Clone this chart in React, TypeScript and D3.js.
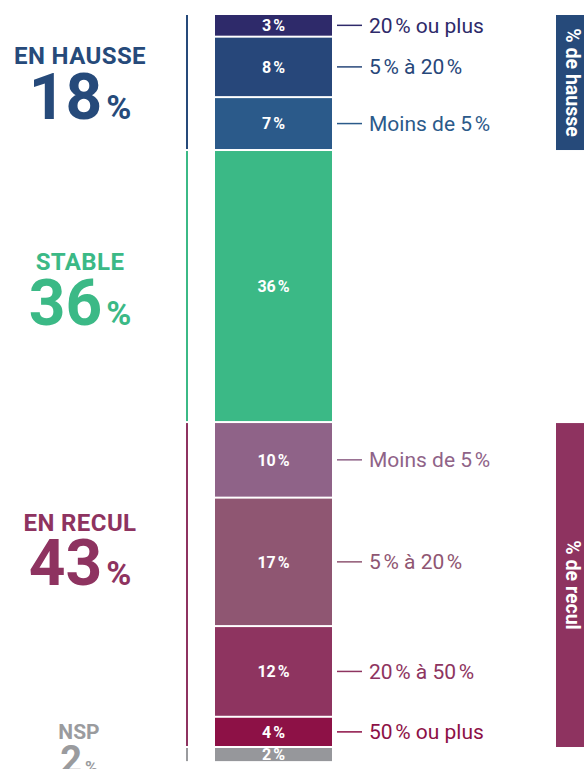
import React from "react";
import * as d3 from "d3";

// groups (left labels + vertical rules)
const groupNames = ["EN HAUSSE", "STABLE", "EN RECUL", "NSP"];
const groupTotals = [18, 36, 43, 2];
const groupColors = ["#264a7a", "#3bb986", "#8e3360", "#9a9b9e"];

// stacked segments, top to bottom
const segmentValues = [3, 8, 7, 36, 10, 17, 12, 4, 2];
const segmentGroups = [0, 0, 0, 1, 2, 2, 2, 2, 3];
const segmentColors = [
  "#2e2a6a",
  "#27477a",
  "#2b5a8a",
  "#3bb986",
  "#8f6388",
  "#8f5672",
  "#8e3460",
  "#8d1146",
  "#96979b",
];
const segmentLabels = [
  "20\u202F% ou plus",
  "5\u202F% à 20\u202F%",
  "Moins de 5\u202F%",
  "",
  "Moins de 5\u202F%",
  "5\u202F% à 20\u202F%",
  "20\u202F% à 50\u202F%",
  "50\u202F% ou plus",
  "",
];

// side boxes
const sideBoxGroups = [0, 2];
const sideBoxLabels = ["% de hausse", "% de recul"];

const W = 584;
const H = 769;
const FONT = "Roboto, 'Noto Sans', sans-serif";

export default function App() {
  const y = d3.scaleLinear().domain([0, 97]).range([15, 748]);
  const x = d3.scaleBand().domain(["bar"]).range([215, 332]);
  const bx = x("bar") as number;
  const bw = x.bandwidth();

  const ends = d3.cumsum(segmentValues);
  const segs = segmentValues.map((v, i) => ({
    v,
    start: ends[i] - v,
    end: ends[i],
    group: segmentGroups[i],
    color: segmentColors[i],
    label: segmentLabels[i],
  }));

  const groups = groupNames.map((name, g) => {
    const members = segs.filter((s) => s.group === g);
    return {
      name,
      total: groupTotals[g],
      color: groupColors[g],
      start: d3.min(members, (s) => s.start) as number,
      end: d3.max(members, (s) => s.end) as number,
    };
  });

  // vertical offsets of the left group labels relative to the group middle
  const labelShift = [0, 2, -36, 0];

  return (
    <svg width={W} height={H} style={{ display: "block", fontFamily: FONT }}>
      <style>{"body{margin:0}"}</style>

      {/* left vertical rules */}
      {groups.map((g, i) => (
        <rect
          key={"rule" + i}
          x={186}
          y={y(g.start)}
          width={2}
          height={y(g.end) - y(g.start) - 2}
          fill={g.color}
        />
      ))}

      {/* left labels */}
      {groups.map((g, i) => {
        if (g.name === "NSP") {
          const by = y(g.start) - 9;
          return (
            <g key={"lab" + i} fill={g.color} fontWeight={700} textAnchor="middle">
              <text x={79} y={by} fontSize={21}>
                {g.name}
              </text>
              <text x={79} y={by + 34}>
                <tspan fontSize={38}>{g.total}</tspan>
                <tspan fontSize={17} dx={3}>%</tspan>
              </text>
            </g>
          );
        }
        const cy = (y(g.start) + y(g.end)) / 2 + labelShift[i];
        return (
          <g key={"lab" + i} fill={g.color} fontWeight={700} textAnchor="middle">
            <text x={80} y={cy - 19} fontSize={24} letterSpacing={0.4}>
              {g.name}
            </text>
            <text x={80} y={cy + 35.5}>
              <tspan fontSize={64}>{g.total}</tspan>
              <tspan fontSize={34} dx={4}>%</tspan>
            </text>
          </g>
        );
      })}

      {/* stacked bar */}
      {segs.map((s, i) => {
        const my = (y(s.start) + y(s.end) - 2) / 2;
        return (
          <g key={"seg" + i}>
            <rect
              x={bx}
              y={y(s.start)}
              width={bw}
              height={y(s.end) - y(s.start) - 2}
              fill={s.color}
            />
            <text
              x={bx + bw / 2}
              y={my}
              dy="0.36em"
              textAnchor="middle"
              fill="#fff"
              fontWeight={700}
              fontSize={16}
              letterSpacing={1.4}
            >
              {s.v + "\u202F%"}
            </text>
            {s.label && (
              <g>
                <line x1={337} x2={362} y1={my} y2={my} stroke={s.color} strokeWidth={1.5} />
                <text x={369} y={my} dy="0.36em" fill={s.color} fontSize={21}>
                  {s.label}
                </text>
              </g>
            )}
          </g>
        );
      })}

      {/* side boxes */}
      {sideBoxGroups.map((gi, i) => {
        const g = groups[gi];
        const y0 = y(g.start);
        const y1 = y(g.end) - 1;
        return (
          <g key={"box" + i}>
            <rect x={556} y={y0} width={40} height={y1 - y0} fill={g.color} />
            <text
              transform={`translate(566,${(y0 + y1) / 2}) rotate(90)`}
              textAnchor="middle"
              fill="#fff"
              fontWeight={700}
              fontSize={19.5}
            >
              {sideBoxLabels[i]}
            </text>
          </g>
        );
      })}
    </svg>
  );
}
